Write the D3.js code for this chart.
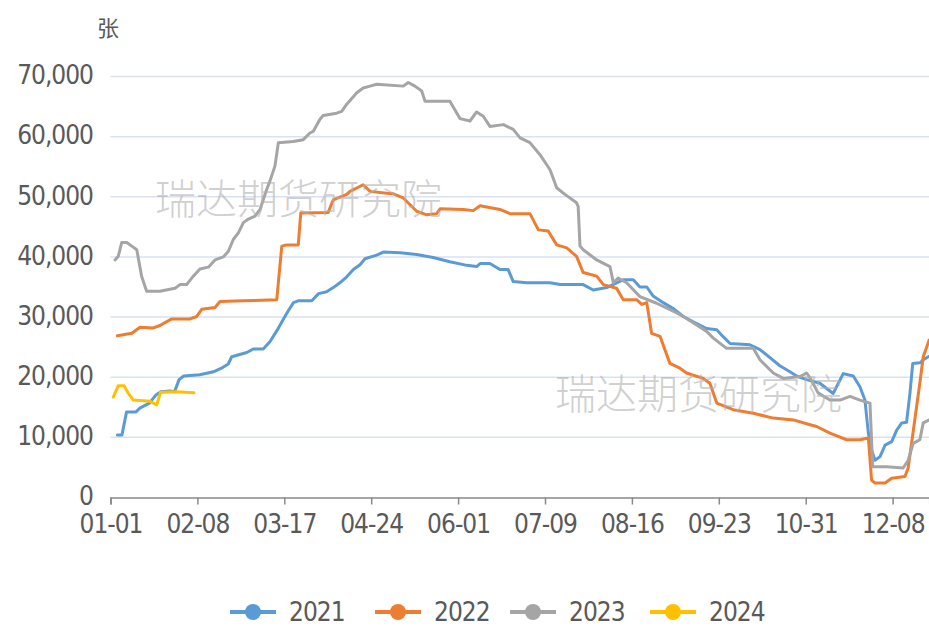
<!DOCTYPE html>
<html>
<head>
<meta charset="utf-8">
<script src="https://cdn.jsdelivr.net/npm/d3@7"></script>
<style>
  html, body { margin: 0; padding: 0; background: #ffffff; }
  svg { display: block; }
  .lbl { font-family: "DejaVu Sans Condensed", "DejaVu Sans", sans-serif; fill: #595959; letter-spacing: -1px; }
</style>
</head>
<body>
<svg id="chart" width="929" height="628"></svg>
<script>
// ---- data (day index from 01-01, value in 张) ----
const seriesNames = ["2021", "2022", "2023", "2024"];
const seriesColors = ["#5b9bd5", "#ed7d31", "#a5a5a5", "#ffc000"];
const tickDays = [0, 38, 76, 114, 152, 190, 228, 266, 304, 342];
const tickLabels = ["01-01", "02-08", "03-17", "04-24", "06-01", "07-09", "08-16", "09-23", "10-31", "12-08"];
const yTicks = [0, 10000, 20000, 30000, 40000, 50000, 60000, 70000];
const yUnit = "张";
const watermark = "瑞达期货研究院";

const s2021 = [[3,10400],[5,10400],[7,14200],[11,14200],[13,14900],[17,15700],[20,17100],[22,17600],[26,17700],[28,17600],[30,19600],[32,20200],[39,20400],[45,20900],[49,21600],[51.5,22200],[53,23400],[55,23600],[59.6,24100],[62.4,24700],[66.8,24700],[69.7,25900],[72.7,27700],[77,30600],[80,32400],[82,32700],[88,32700],[91,33900],[94.5,34200],[97.4,34900],[100.3,35700],[103.3,36700],[106.2,37900],[109.1,38700],[111.3,39700],[116.4,40300],[119.3,40800],[126.6,40700],[133.9,40400],[141.1,39900],[148.4,39200],[155.8,38600],[160.1,38400],[161.6,38900],[165.9,38900],[170.3,37900],[173.9,37900],[176.1,35900],[182,35700],[192.2,35700],[196.6,35400],[206.7,35400],[211.1,34500],[217,34900],[221.3,35700],[224.2,36200],[228.6,36200],[231.5,35000],[234.5,35000],[237.3,33500],[241.7,32400],[246.1,31400],[250.5,30100],[254.8,29200],[260.7,28100],[265.1,27900],[268,26700],[270.9,25600],[279.6,25400],[284,24600],[286.9,23700],[292.7,21900],[297.1,20900],[300,20200],[304.4,19600],[310.2,19000],[316,17300],[320.4,20600],[324.8,20200],[327.7,18400],[329.9,16200],[331.4,10700],[332.8,7900],[334.3,6200],[336.5,6800],[338.7,8700],[341.6,9300],[343.8,11200],[346,12400],[348.1,12500],[349.6,17400],[350.8,22300],[354,22400],[355.4,22900],[358,23500]];

const s2022 = [[3,26900],[9.3,27300],[12.9,28300],[18.7,28200],[21.6,28600],[26.8,29700],[34.8,29700],[37.7,30100],[39.9,31300],[45.7,31600],[47.9,32600],[58.1,32700],[72.7,32900],[74.9,41800],[77,42000],[82.1,42000],[83.2,47300],[95.2,47400],[97.4,49500],[103.3,50400],[104.7,50900],[110.5,52000],[113.5,50900],[120.8,50600],[123.7,50500],[128,49800],[133.9,47600],[138.3,47000],[142.6,47200],[144.1,48000],[154.3,47900],[158.6,47700],[161.6,48500],[170.3,47900],[174.7,47200],[183.4,47200],[187.1,44500],[191.4,44300],[195.1,42000],[199.5,41500],[203.8,40100],[206.7,37400],[212.6,36800],[215.5,35400],[221.3,34800],[224.2,32900],[230.1,32900],[232.3,32100],[234.5,32400],[236.6,27300],[240.3,26800],[244.6,22300],[249,21500],[251.9,20700],[259.2,19800],[262.1,19000],[265.1,15700],[272.3,14600],[281.1,14000],[289.8,13200],[298.6,12900],[305.9,12100],[308.8,11800],[314.6,10700],[321.9,9600],[327.7,9600],[331.4,9900],[332.8,2900],[334.3,2400],[338.7,2400],[341.6,3200],[347.4,3500],[348.8,4900],[353.9,19000],[355.4,23400],[358,26200]];

const s2023 = [[2,39500],[3.4,40100],[4.9,42400],[7.1,42400],[9.3,41800],[11.5,41200],[13.6,36800],[15.8,34300],[21.6,34300],[28.2,34800],[30.4,35400],[33.3,35400],[36.2,36800],[39.1,38000],[42.8,38300],[45.7,39500],[49.3,40000],[51.5,40900],[53.7,42900],[55.9,44000],[58.1,45700],[60.3,46300],[63.2,46800],[65.4,47900],[66.8,49500],[68.3,51200],[69.7,52600],[71.9,55100],[73.4,59000],[79.9,59200],[84.3,59500],[87.2,60600],[88.7,60900],[91.6,62900],[93,63500],[98.9,63900],[101.1,64200],[103.3,65400],[107.7,67300],[110.5,68100],[113.5,68400],[116.4,68700],[128,68400],[130.2,69000],[133.1,68400],[136.1,67600],[137.5,65900],[148.4,65900],[152.8,63000],[157.2,62600],[160.1,64100],[163,63400],[165.9,61700],[171.8,62000],[176.1,61200],[179.1,59800],[183.4,59000],[187.8,57000],[192.2,54500],[195.1,51500],[198.7,50400],[203.8,49000],[204.5,48400],[205.3,41800],[206.7,41200],[212.6,39500],[218.4,38400],[219.9,35700],[222,36500],[225.7,35700],[231.5,33400],[238.8,32300],[247.6,30700],[250.5,30100],[256.3,28700],[260.7,27600],[263.6,26500],[269.4,24800],[281.1,24800],[284,22900],[289.8,20700],[294.2,19800],[301.5,20100],[304.4,20700],[305.9,19900],[309.4,17400],[314.6,16200],[319,16200],[323.4,16800],[327.7,16200],[332.1,15700],[333.3,5100],[339.4,5100],[346.6,4900],[348.8,6200],[351,9000],[353.9,9600],[355.4,12400],[358,12900]];

const s2024 = [[1.2,16700],[3.4,18600],[5.9,18600],[7.8,17300],[10,16200],[17.3,16000],[20.2,15400],[21.9,17500],[28.9,17600],[36.5,17400]];

const allSeries = [s2021, s2022, s2023, s2024];

// ---- drawing ----
const svg = d3.select("#chart");
const x = d3.scaleLinear().domain([0, 358]).range([110.5, 929.2]);
const y = d3.scaleLinear().domain([0, 70000]).range([497.5, 76.5]);

// gridlines
svg.append("g")
  .selectAll("line")
  .data(yTicks.filter(d => d > 0))
  .join("line")
  .attr("x1", 110.5).attr("x2", 929)
  .attr("y1", d => y(d)).attr("y2", d => y(d))
  .attr("stroke", "#d9e1f2").attr("stroke-width", 1.5);

// y labels
svg.append("g")
  .selectAll("text")
  .data(yTicks)
  .join("text")
  .attr("class", "lbl")
  .attr("x", 93).attr("y", d => y(d))
  .attr("dy", "0.3em")
  .attr("text-anchor", "end")
  .attr("font-size", 26)
  .text(d => d3.format(",")(d));

// x axis
const xAxis = d3.axisBottom(x)
  .tickValues(tickDays)
  .tickFormat((d, i) => tickLabels[i])
  .tickSize(7)
  .tickPadding(10);
const gx = svg.append("g").attr("transform", `translate(0,${y(0)})`).call(xAxis);
gx.select(".domain").attr("stroke", "#898989").attr("stroke-width", 1.5);
gx.selectAll(".tick line").attr("stroke", "#898989").attr("stroke-width", 1.5);
gx.selectAll(".tick text")
  .attr("class", "lbl")
  .attr("font-size", 26)
  .attr("fill", "#595959");
gx.attr("font-family", null);

// unit label
svg.append("text")
  .attr("x", 108).attr("y", 28)
  .attr("dy", "0.35em")
  .attr("text-anchor", "middle")
  .attr("font-size", 22)
  .attr("fill", "#595959")
  .style("font-family", "'Noto Sans CJK SC', sans-serif")
  .text(yUnit);

// lines
const line = d3.line().x(d => x(d[0])).y(d => y(d[1]));
svg.append("g")
  .selectAll("path")
  .data(allSeries)
  .join("path")
  .attr("d", d => line(d))
  .attr("fill", "none")
  .attr("stroke", (d, i) => seriesColors[i])
  .attr("stroke-width", 3)
  .attr("stroke-linejoin", "round")
  .attr("stroke-linecap", "round");

// watermarks
const wm = [[155, 200], [555, 395]];
svg.append("g")
  .selectAll("text")
  .data(wm)
  .join("text")
  .attr("x", d => d[0]).attr("y", d => d[1])
  .attr("dy", "0.35em")
  .attr("font-size", 41)
  .attr("fill", "#b0b0b0")
  .attr("fill-opacity", 0.6)
  .attr("font-weight", 300)
  .style("font-family", "'Noto Sans CJK SC', sans-serif")
  .text(watermark);

// legend
const legendX = [230, 375, 510, 650];
const lg = svg.append("g")
  .selectAll("g")
  .data(seriesNames)
  .join("g")
  .attr("transform", (d, i) => `translate(${legendX[i]},612)`);
lg.append("line")
  .attr("x1", 0).attr("x2", 46)
  .attr("stroke", (d, i) => seriesColors[i])
  .attr("stroke-width", 4);
lg.append("circle")
  .attr("cx", 23).attr("r", 8)
  .attr("fill", (d, i) => seriesColors[i]);
lg.append("text")
  .attr("class", "lbl")
  .attr("x", 59).attr("dy", "0.35em")
  .attr("font-size", 26)
  .text(d => d);
</script>
</body>
</html>
